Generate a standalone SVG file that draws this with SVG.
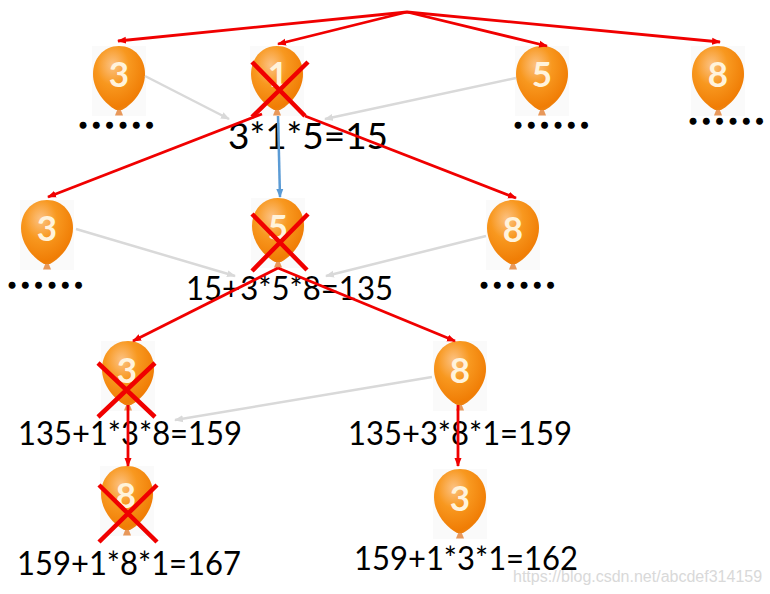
<svg xmlns="http://www.w3.org/2000/svg" width="770" height="594" viewBox="0 0 770 594">
<style>
.num{font-family:"Lato","Open Sans",sans-serif;font-size:35px;fill:#fff3dc;text-anchor:middle;font-weight:bold}
.lab{font-family:"Lato","Open Sans",sans-serif;fill:#000;font-size:33px}
.dots{font-family:"Lato",sans-serif;font-weight:900;font-size:34px;letter-spacing:5.2px;fill:#000;stroke:#000;stroke-width:1.4px}
.red{stroke:#f00000;stroke-width:2.8;fill:none;marker-end:url(#ar)}
.gray{stroke:#d9d9d9;stroke-width:2.5;fill:none;marker-end:url(#ag)}
.x{stroke:#f00000;stroke-width:4.5;fill:none}
.wm{font-family:"Liberation Sans",sans-serif;font-size:16px;fill:#c9c9c9;opacity:.7}
</style>
<defs>
<marker id="ar" markerWidth="10" markerHeight="8" refX="8" refY="4" orient="auto" markerUnits="userSpaceOnUse"><path d="M0,0.5 L9,4 L0,7.5 Z" fill="#f00000"/></marker>
<marker id="ag" markerWidth="10" markerHeight="8" refX="8" refY="4" orient="auto" markerUnits="userSpaceOnUse"><path d="M0,0.5 L9,4 L0,7.5 Z" fill="#d9d9d9"/></marker>
<marker id="ab" markerWidth="10" markerHeight="8" refX="8" refY="4" orient="auto" markerUnits="userSpaceOnUse"><path d="M0,0.5 L9,4 L0,7.5 Z" fill="#5b9bd5"/></marker>
<radialGradient id="bg" cx="0.38" cy="0.3" r="0.78">
<stop offset="0" stop-color="#fcc283"/><stop offset="0.4" stop-color="#f8981f"/><stop offset="0.85" stop-color="#f07d05"/><stop offset="1" stop-color="#e88a22"/>
</radialGradient>
<g id="balloon">
<rect x="-27" y="0" width="54" height="70" fill="#fafafa"/>
<path d="M-1.5,63 L1.5,63 L4,69.500 L-4,69.500 Z" fill="#e8985a"/>
<path d="M0,0 C16,0 26,13 26,28 C26,44 14,58 3,64 L-3,64 C-14,58 -26,44 -26,28 C-26,13 -16,0 0,0 Z" fill="url(#bg)"/>
</g>
</defs>
<rect width="770" height="594" fill="#fff"/>

<g id="n-top-3"><use href="#balloon" x="119" y="46"/><text class="num" x="119" y="87">3</text></g>
<g id="n-top-1"><use href="#balloon" x="277" y="46"/><text class="num" x="278" y="87">1</text></g>
<g id="n-top-5"><use href="#balloon" x="542" y="46"/><text class="num" x="542" y="87">5</text></g>
<g id="n-top-8"><use href="#balloon" x="718" y="46"/><text class="num" x="718" y="87">8</text></g>
<g id="n-l2-3"><use href="#balloon" x="47" y="200"/><text class="num" x="47" y="241">3</text></g>
<g id="n-l2-5"><use href="#balloon" x="278" y="198"/><text class="num" x="278" y="240">5</text></g>
<g id="n-l2-8"><use href="#balloon" x="513" y="200"/><text class="num" x="513" y="242">8</text></g>
<g id="n-l3-3"><use href="#balloon" x="128" y="341"/><text class="num" x="127" y="383">3</text></g>
<g id="n-l3-8"><use href="#balloon" x="460" y="341"/><text class="num" x="460" y="383">8</text></g>
<g id="n-l4-8"><use href="#balloon" x="127" y="466"/><text class="num" x="126" y="508">8</text></g>
<g id="n-l4-3"><use href="#balloon" x="460" y="469"/><text class="num" x="460" y="511">3</text></g>

<g id="labels">
<text class="dots" x="79" y="128">......</text>
<text class="dots" x="514" y="128">......</text>
<text class="dots" x="689" y="124">......</text>
<text class="dots" x="8" y="288">......</text>
<text class="dots" x="480" y="288">......</text>
<text class="lab" x="228" y="149" textLength="160" lengthAdjust="spacingAndGlyphs" style="font-size:37px">3*1*5=15</text>
<text class="lab" x="186" y="300" textLength="207" lengthAdjust="spacingAndGlyphs">15+3*5*8=135</text>
<text class="lab" x="18" y="445" textLength="224" lengthAdjust="spacingAndGlyphs">135+1*3*8=159</text>
<text class="lab" x="348" y="445" textLength="224" lengthAdjust="spacingAndGlyphs">135+3*8*1=159</text>
<text class="lab" x="17" y="575" textLength="224" lengthAdjust="spacingAndGlyphs">159+1*8*1=167</text>
<text class="lab" x="354" y="570" textLength="224" lengthAdjust="spacingAndGlyphs">159+1*3*1=162</text>
<text class="wm" x="513" y="582">https://blog.csdn.net/abcdef314159</text>
</g>

<g id="connectors">
<line class="red" x1="407" y1="12" x2="118" y2="41"/>
<line class="red" x1="407" y1="12" x2="278" y2="44"/>
<line class="red" x1="407" y1="12" x2="547" y2="46"/>
<line class="red" x1="407" y1="12" x2="720" y2="42"/>
<line class="gray" x1="145" y1="76" x2="229" y2="119"/>
<line class="gray" x1="516" y1="78" x2="325" y2="119"/>
<line class="gray" x1="76" y1="229" x2="235" y2="276"/>
<line class="gray" x1="486" y1="236" x2="326" y2="276"/>
<line class="gray" x1="432" y1="377" x2="175" y2="420"/>
<line x1="278" y1="116" x2="280" y2="197" stroke="#5b9bd5" stroke-width="2.5" marker-end="url(#ab)"/>
<line class="red" x1="262" y1="114" x2="48" y2="197"/>
<line class="red" x1="305" y1="116" x2="516" y2="198"/>
<line class="red" x1="278" y1="268" x2="133" y2="341"/>
<line class="red" x1="278" y1="268" x2="455" y2="341"/>
<line class="red" x1="128" y1="405" x2="128" y2="466"/>
<line class="red" x1="458" y1="405" x2="458" y2="466"/>
<path class="x" d="M252,62 L305,116 M308,62 L252,117"/>
<path class="x" d="M252,214 L307,270 M308,214 L252,271"/>
<path class="x" d="M98,363 L155,417 M155,363 L98,417"/>
<path class="x" d="M99,485 L157,542 M157,485 L99,542"/>
</g>
</svg>
